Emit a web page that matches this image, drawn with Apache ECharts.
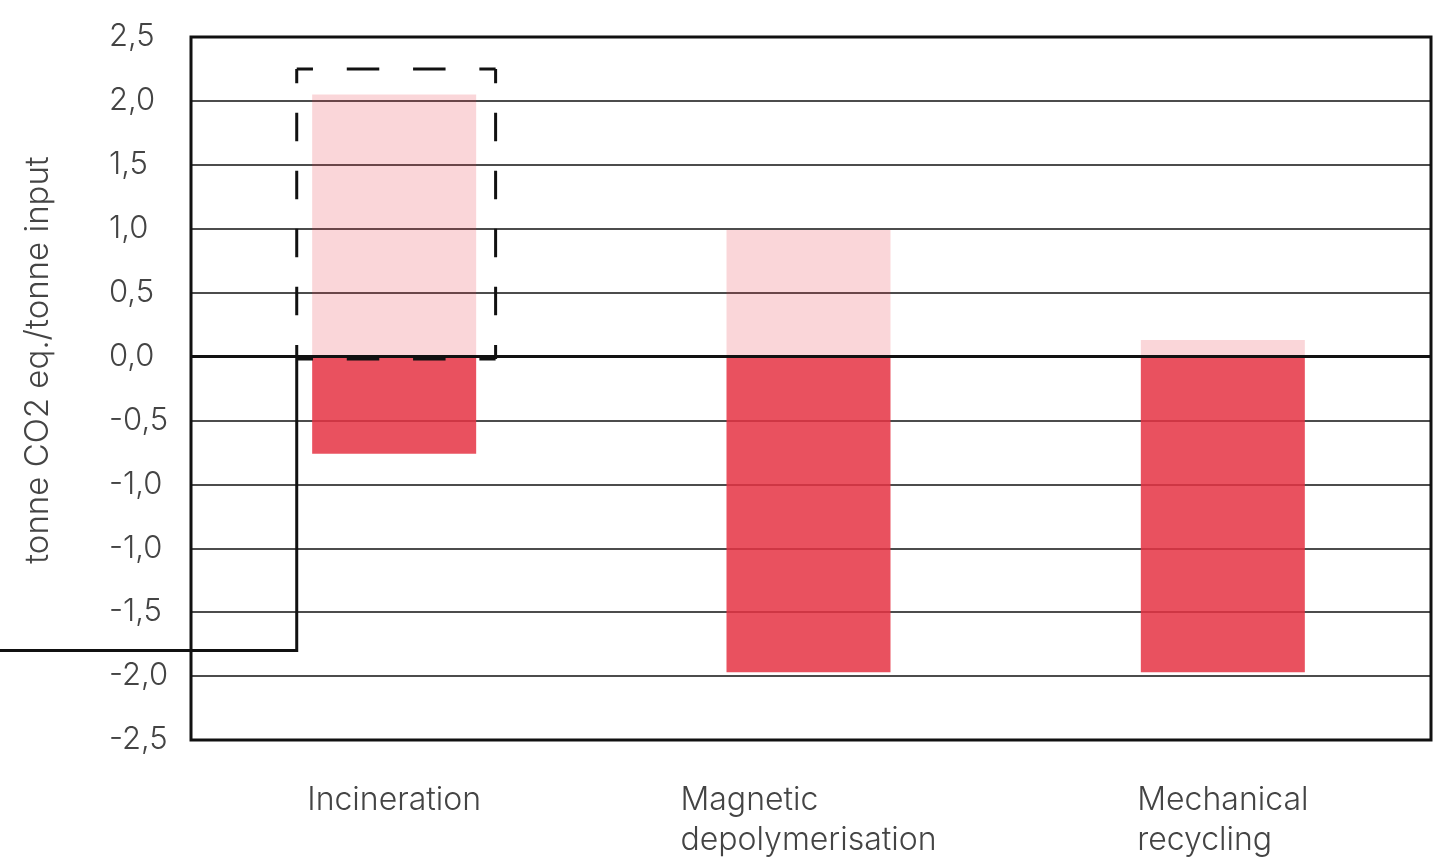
<!DOCTYPE html>
<html>
<head>
<meta charset="utf-8">
<script src="https://cdn.jsdelivr.net/npm/echarts@6/dist/echarts.min.js"></script>
<style>
  html, body { margin: 0; padding: 0; background: #ffffff; }
  #chart { width: 1446px; height: 859px; }
</style>
</head>
<body>
<div id="chart"></div>
<script>
// Treatment routes along the category axis
var categories = ['Incineration', 'Magnetic\ndepolymerisation', 'Mechanical\nrecycling'];

// Emissions (positive) and avoided emissions (negative), in steps of the value axis
var emissions = [2.05, 0.99, 0.13];
var avoided = [-0.76, -2.47, -2.47];

// Value axis range and printed tick labels (one label per 0.5 step, bottom to top)
var yMin = -3, yMax = 2.5, yStep = 0.5;
var yTickLabels = ['-2,5', '-2,0', '-1,5', '-1,0', '-1,0', '-0,5', '0,0', '0,5', '1,0', '1,5', '2,0', '2,5'];

// Highlight box around the incineration emissions and the leader line leaving it
var highlightTop = 2.25, highlightBottom = -0.02, leaderLevel = -2.3;

var FONT = 'Inter, Lato, sans-serif';
var TEXT_COLOR = '#444444';

var chart = echarts.init(document.getElementById('chart'), null, { renderer: 'canvas' });

var hiddenY = {
  type: 'value', gridIndex: 1, min: yMin, max: yMax, interval: yStep,
  axisLine: { show: false }, axisTick: { show: false }, axisLabel: { show: false }, splitLine: { show: false }
};

var option = {
  backgroundColor: '#ffffff',
  animation: false,
  grid: [
    // framed plot area with gridlines
    { left: 191, right: 15, top: 37, bottom: 119, show: true, borderColor: '#111111', borderWidth: 3, backgroundColor: 'transparent' },
    // band layout for the bars
    { left: 187, right: 16, top: 37, bottom: 119 }
  ],
  xAxis: [
    { type: 'category', gridIndex: 0, data: categories, show: false },
    {
      type: 'category',
      gridIndex: 1,
      data: categories,
      axisLine: { show: false },
      axisTick: { show: false },
      splitLine: { show: false },
      axisLabel: {
        interval: 0,
        margin: 40,
        formatter: function (v) {
          return v.split('\n').map(function (s) { return '{a|' + s + '}'; }).join('\n');
        },
        rich: {
          a: { align: 'left', fontFamily: FONT, fontWeight: 300, fontSize: 32, lineHeight: 40, color: TEXT_COLOR }
        }
      }
    }
  ],
  yAxis: [
    {
      type: 'value',
      gridIndex: 0,
      min: yMin, max: yMax, interval: yStep,
      axisLine: { show: false },
      axisTick: { show: false },
      splitLine: { show: true, lineStyle: { color: '#111111', width: 1.5 } },
      axisLabel: {
        margin: 82,
        align: 'left',
        fontFamily: FONT, fontWeight: 300, fontSize: 31, color: TEXT_COLOR,
        formatter: function (v) {
          var i = Math.round((v - yMin) / yStep);
          return yTickLabels[i] !== undefined ? yTickLabels[i] : '';
        }
      }
    },
    hiddenY
  ],
  series: [
    {
      name: 'Emissions',
      type: 'bar',
      xAxisIndex: 1, yAxisIndex: 1,
      stack: 'total',
      barWidth: 164,
      data: emissions,
      itemStyle: { color: 'rgba(229, 50, 67, 0.2)' },
      z: 1
    },
    {
      name: 'Avoided emissions',
      type: 'bar',
      xAxisIndex: 1, yAxisIndex: 1,
      stack: 'total',
      barWidth: 164,
      data: avoided,
      itemStyle: { color: 'rgba(229, 50, 67, 0.85)' },
      z: 1
    },
    {
      // zero baseline across the framed plot area
      name: 'Baseline',
      type: 'line',
      xAxisIndex: 0, yAxisIndex: 0,
      data: [],
      markLine: {
        silent: true,
        symbol: ['none', 'none'],
        label: { show: false },
        lineStyle: { color: '#111111', width: 3, type: 'solid' },
        data: [{ yAxis: 0 }],
        z: 3
      }
    }
  ],
  graphic: [
    {
      type: 'text',
      x: 38, y: 360,
      rotation: Math.PI / 2,
      style: {
        text: 'tonne CO2 eq./tonne input',
        font: '300 33px ' + FONT,
        fill: TEXT_COLOR,
        align: 'center',
        verticalAlign: 'middle'
      }
    }
  ]
};

chart.setOption(option);

// One dashed side, starting and ending on half a dash so the corners form L shapes
function dashedSide(x1, y1, x2, y2) {
  var len = Math.hypot(x2 - x1, y2 - y1);
  var n = Math.max(1, Math.round(len / 64));
  var period = len / n;
  var dash = period * 0.49;
  return {
    type: 'line',
    z: 10,
    shape: { x1: x1, y1: y1, x2: x2, y2: y2 },
    style: { stroke: '#111111', lineWidth: 3, lineDash: [dash, period - dash], lineDashOffset: dash / 2 }
  };
}

// Place the dashed highlight box and leader line from axis coordinates
function placeHighlight() {
  var finder = { xAxisIndex: 1, yAxisIndex: 1 };
  var c0 = chart.convertToPixel(finder, [0, highlightTop]);
  var c1 = chart.convertToPixel(finder, [1, highlightBottom]);
  var band = c1[0] - c0[0];
  var half = band * 0.24;
  var left = c0[0] + 2 - half;
  var right = c0[0] + 2 + half;
  var top = c0[1];
  var bottom = c1[1];
  var yLeader = chart.convertToPixel(finder, [0, leaderLevel])[1];
  chart.setOption({
    graphic: [
      option.graphic[0],
      dashedSide(left, top, right, top),
      dashedSide(right, top, right, bottom),
      dashedSide(right, bottom, left, bottom),
      dashedSide(left, bottom, left, top),
      {
        type: 'polyline',
        z: 10,
        shape: { points: [[0, yLeader], [left, yLeader], [left, bottom]] },
        style: { fill: 'none', stroke: '#111111', lineWidth: 3 }
      }
    ]
  });
}
placeHighlight();
</script>
</body>
</html>
